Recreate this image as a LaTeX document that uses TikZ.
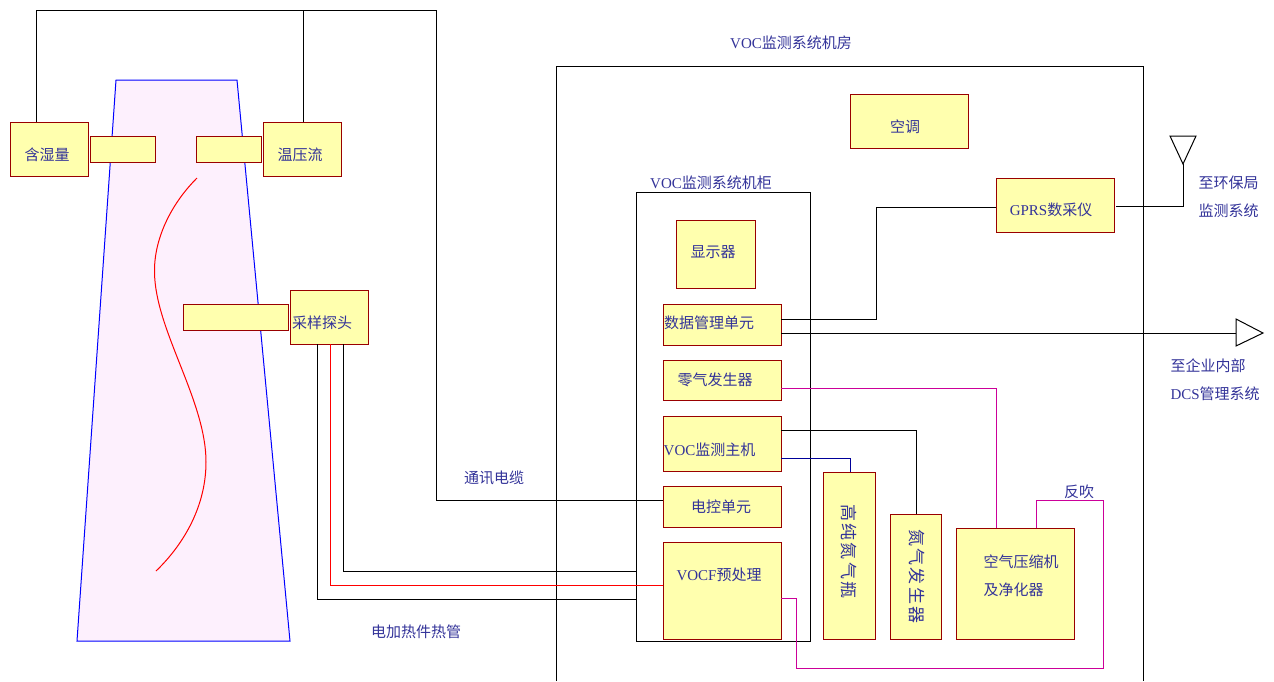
\documentclass[tikz,border=0pt]{standalone}
\usepackage{fontspec}
\setmainfont{Noto Sans CJK SC}
\newfontfamily\latfont{Liberation Serif}
\newfontfamily\widefont[LetterSpace=12]{Noto Sans CJK SC}
\newcommand{\lat}[1]{{\latfont #1}}
\definecolor{boxfill}{HTML}{FFFFAE}
\definecolor{boxline}{HTML}{990000}
\definecolor{txtblue}{HTML}{333399}
\definecolor{stackfill}{HTML}{FDF0FD}
\definecolor{purge}{HTML}{CC0099}
\usetikzlibrary{positioning}

\begin{document}
\begin{tikzpicture}[x=1pt,y=-1pt,line width=1pt,
  box/.style={draw=boxline,fill=boxfill,inner sep=0pt},
  txt/.style={text=txtblue,font=\fontsize{15}{28}\selectfont,inner sep=0pt,align=left},
  vtxt/.style={txt,rotate=-90,font=\fontsize{17}{17}\widefont}]
\useasboundingbox (0,0) rectangle (1274,681);

% stack
\draw[blue,fill=stackfill] (116,80) -- (237,80) -- (290,641) -- (77,641) -- cycle;
\draw[red] (197,178) .. controls (170,205) and (154,240) .. (154.5,272)
  .. controls (155,330) and (206,400) .. (206,462)
  .. controls (206,510) and (180,548) .. (156,571);

% room and cabinet
\draw (556.5,681) -- (556.5,66) -- (1143,66) -- (1143,681);
\node[draw,minimum width=173.5pt,minimum height=449pt] (cabinet) at (723.25,416.5) {};
\node[txt] (roomlabel) at (791,43) {\lat{VOC}监测系统机房};
\node[txt] (cabinetlabel) at (711,183) {\lat{VOC}监测系统机柜};

% stack side boxes
\node[box,minimum width=78pt,minimum height=54pt,label={[txt,xshift=-2pt,yshift=-6pt]center:含湿量}] (moist) at (49,149) {};
\node[box,minimum width=78pt,minimum height=54pt,label={[txt,xshift=-2pt,yshift=-6pt]center:温压流}] (tpf) at (302,149) {};
\node[box,minimum width=65pt,minimum height=26pt] (moistport) at (122.5,149) {};
\node[box,minimum width=65pt,minimum height=26pt] (tpfport) at (229,149) {};
\node[box,minimum width=105pt,minimum height=26pt] (probeport) at (235.5,317) {};
\node[box,minimum width=78pt,minimum height=54pt,label={[txt,xshift=-7pt,yshift=-6pt]center:采样探头}] (probe) at (329,317) {};

% room boxes
\node[box,minimum width=118pt,minimum height=54pt,label={[txt,xshift=-4pt,yshift=-6pt]center:空调}] (aircon) at (909,121) {};
\node[box,minimum width=118pt,minimum height=54pt,label={[txt,xshift=-4pt,yshift=-5pt]center:\lat{GPRS}数采仪}] (gprs) at (1055,205) {};
\node[box,minimum width=79pt,minimum height=68pt,label={[txt,xshift=-2.5pt,yshift=2pt]center:显示器}] (display) at (715.5,254) {};
\node[box,minimum width=118pt,minimum height=41pt,label={[txt,xshift=-13pt,yshift=1.5pt]center:数据管理单元}] (datamgr) at (722,324.5) {};
\node[box,minimum width=118pt,minimum height=40pt,label={[txt,xshift=-7pt]center:零气发生器}] (zerogas) at (722,380) {};
\node[box,minimum width=118pt,minimum height=55pt,label={[txt,xshift=-12.5pt,yshift=-6.5pt]center:\lat{VOC}监测主机}] (host) at (722,443.5) {};
\node[box,minimum width=118pt,minimum height=41pt,label={[txt,xshift=-1pt]center:电控单元}] (control) at (722,506.5) {};
\node[box,minimum width=118pt,minimum height=97pt,label={[txt,xshift=-3pt,yshift=15.5pt]center:\lat{VOCF}预处理}] (prep) at (722,590.5) {};
\node[box,minimum width=52pt,minimum height=167pt,label={[vtxt,xshift=-4pt]center:高纯氮气瓶}] (n2bottle) at (849,555.5) {};
\node[box,minimum width=51pt,minimum height=125pt,label={[vtxt,yshift=1pt]center:氮气发生器}] (n2gen) at (915.5,576.5) {};
\node[box,minimum width=118pt,minimum height=111pt,label={[txt,xshift=6pt,yshift=7.5pt]center:空气压缩机\\及净化器}] (compressor) at (1015,583.5) {};

% outside ends
\coordinate (wireleft) at (36.5,10);
\coordinate (wireright) at (436,10);
\coordinate (antenna) at (1183,164);
\coordinate (dcs) at (1236,333);
\coordinate (purgetop) at (1103,500);
\coordinate (purgelow) at (796,668);

\draw[fill=white] (antenna) -- (1170,136) -- (1196,136) -- cycle;
\draw[fill=white] (dcs) -- (1236,319) -- (1263,333) -- (1236,346) -- cycle;

% wires
\draw (wireleft |- moist.north) -- (wireleft) -- (wireright) |- (control.west |- 0,500);
\draw (303,122) -- (303,10);
\draw (343,344) |- (cabinet.west |- 0,571);
\draw[red] (330,344) |- (prep.west |- 0,585);
\draw (317,344) |- (cabinet.west |- 0,599);
\draw (781,319) -- (876,319) -- (876,207) -- (gprs.west |- 0,207);
\draw (781,333) -- (dcs);
\draw (1116,206) -| (antenna);
\draw[purge] (781,388) -| (996.5,528);
\draw (781,430) -| (916,514);
\draw[blue!60!black] (781,458) -| (850,472);
\draw[purge] (1036,528) |- (purgetop) |- (purgelow) |- (781,598);

% labels
\node[txt] (cablelabel) at (494,478) {通讯电缆};
\node[txt] (heatlabel) at (416,632) {电加热件热管};
\node[txt] (purgelabel) at (1079,492) {反吹};
\node[txt,anchor=west] (eptlabel) at (1198,197) {至环保局\\监测系统};
\node[txt,anchor=west] (dcslabel) at (1170,380) {至企业内部\\\lat{DCS}管理系统};
\end{tikzpicture}
\end{document}
